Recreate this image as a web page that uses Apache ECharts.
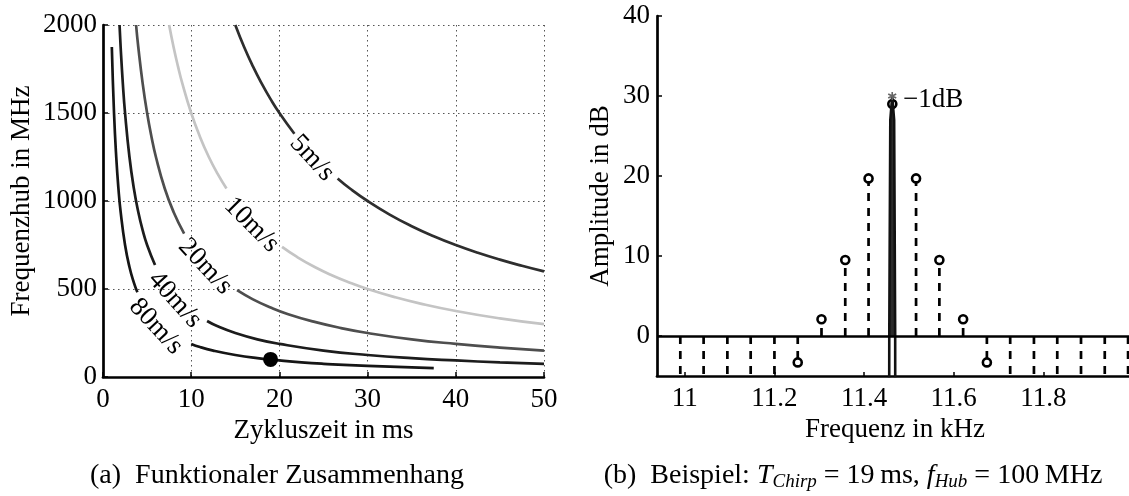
<!DOCTYPE html>
<html>
<head>
<meta charset="utf-8">
<script src="https://cdn.jsdelivr.net/npm/echarts@6/dist/echarts.min.js"></script>
<style>
  html, body { margin: 0; padding: 0; background: #fff; }
  #chart { width: 1129px; height: 496px; }
</style>
</head>
<body>
<div id="chart"></div>
<script>
// ---------- (a) Frequenzhub über Zykluszeit, Kurven konstanter Geschwindigkeit ----------
// null marks the break where the inline speed label sits
const curve5T  = [15, 16, 17, 18, 19, 20, 21.7, null, 26.6, 28, 30, 32.5, 35, 37.5, 40, 42.5, 45, 47.5, 50];
const curve5F  = [2000, 1875, 1765, 1667, 1579, 1500, 1382, null, 1128, 1071, 1000, 923, 857, 800, 750, 706, 667, 632, 600];
const curve10T = [7.5, 8, 8.5, 9, 10, 11, 12, 13, 14, null, 20.3, 22, 24, 26, 28, 30, 33, 36, 40, 45, 50];
const curve10F = [2000, 1875, 1765, 1667, 1500, 1364, 1250, 1154, 1071, null, 739, 682, 625, 577, 536, 500, 455, 417, 375, 333, 300];
const curve20T = [3.75, 4, 4.5, 5, 5.5, 6, 7, 8, 9.2, null, 15.2, 17, 19, 21, 24, 27, 30, 35, 40, 45, 50];
const curve20F = [2000, 1875, 1667, 1500, 1364, 1250, 1071, 938, 815, null, 493, 441, 395, 357, 313, 278, 250, 214, 188, 167, 150];
const curve40T = [1.875, 2, 2.25, 2.5, 3, 3.5, 4, 4.5, 5, 5.9, null, 11.8, 13, 15, 17.5, 20, 25, 30, 35, 40, 45, 50];
const curve40F = [2000, 1875, 1667, 1500, 1250, 1071, 938, 833, 750, 636, null, 318, 288, 250, 214, 188, 150, 125, 107, 94, 83, 75];
const curve80T = [1.0, 1.25, 1.5, 1.75, 2, 2.5, 3, 3.5, 3.9, null, 10, 11, 12.5, 15, 17.5, 20, 22.5, 25, 30, 37.5];
const curve80F = [1875, 1500, 1250, 1071, 938, 750, 625, 536, 481, null, 188, 170, 150, 125, 107, 94, 83, 75, 63, 50];

const speedLabels = ['5m/s', '10m/s', '20m/s', '40m/s', '80m/s'];
const speedLabelT = [23.7, 16.85, 11.6, 8.15, 6.0];
const speedLabelF = [1244, 865, 628, 439, 287];

// operating point: 19 ms, 100 MHz
const pointT = [19];
const pointF = [100];

const timeTicks = [0, 10, 20, 30, 40, 50];
const hubTicks = [0, 500, 1000, 1500, 2000];

// ---------- (b) Spektrum, T_Chirp = 19 ms, f_Hub = 100 MHz ----------
const binFreq = [10.990, 11.042, 11.095, 11.147, 11.200, 11.252, 11.305, 11.358, 11.410, 11.463,
                 11.516, 11.568, 11.621, 11.674, 11.726, 11.779, 11.831, 11.884, 11.937, 11.989];
const binDb   = [-14, -9.5, -12, -8, -11, -3.3, 2.1, 9.5, 19.7, 29,
                 19.7, 9.5, 2.1, -3.3, -11, -8, -12, -9.5, -14, -10];

const spikeFreq = [11.4561, 11.4562, 11.4585, 11.4628, 11.4671, 11.4694, 11.4695];
const spikeDb   = [-6, 0, 27, 30, 27, 0, -6];

const peakFreq = [11.4628];
const peakDb   = [30];
const peakLabel = '\u22121dB';

const freqTicks = [11, 11.2, 11.4, 11.6, 11.8];
const ampTicks  = [0, 10, 20, 30, 40];

// ---------- styling ----------
const FONT = '"Liberation Serif", "Times New Roman", serif';
const FS = 27;
const CAPTION_FS = 28;
const AXIS_W = 2.7;
const curveColors = ['#2e2e2e', '#c4c4c4', '#4e4e4e', '#1c1c1c', '#151515'];
const labelAngle = [-47, -45, -47, -48, -47];

function pairs(xs, ys) {
  return xs.map((x, i) => (x === null ? ['-', '-'] : [x, ys[i]]));
}

const curves = [
  pairs(curve5T, curve5F),
  pairs(curve10T, curve10F),
  pairs(curve20T, curve20F),
  pairs(curve40T, curve40F),
  pairs(curve80T, curve80F)
];

const textStyle = { fontFamily: FONT, fontSize: FS, color: '#000' };
const plainNumber = v => String(Math.round(v * 10) / 10);

const chart = echarts.init(document.getElementById('chart'), null, { renderer: 'canvas' });

const series = [];

curves.forEach((data, i) => {
  series.push({
    type: 'line',
    xAxisIndex: 0, yAxisIndex: 0,
    data,
    smooth: 0.5,
    showSymbol: false,
    connectNulls: false,
    lineStyle: { color: curveColors[i], width: 2.7 },
    z: 3
  });
});

series.push({
  type: 'scatter',
  xAxisIndex: 0, yAxisIndex: 0,
  symbolSize: 0,
  itemStyle: { opacity: 1 },
  data: speedLabelT.map((t, i) => ({
    value: [t, speedLabelF[i]],
    label: { rotate: labelAngle[i] }
  })),
  label: {
    show: true,
    position: 'inside',
    formatter: p => speedLabels[p.dataIndex],
    fontFamily: FONT, fontSize: FS, color: '#000', opacity: 1
  },
  z: 4
});

series.push({
  type: 'scatter',
  xAxisIndex: 0, yAxisIndex: 0,
  symbol: 'circle',
  symbolSize: 15,
  itemStyle: { color: '#000', opacity: 1 },
  data: pairs(pointT, pointF),
  z: 5
});

// stems with open circles, clipped at the lower axis limit
series.push({
  type: 'custom',
  coordinateSystem: 'cartesian2d',
  xAxisIndex: 1, yAxisIndex: 1,
  data: pairs(binFreq, binDb),
  encode: { x: 0, y: 1 },
  renderItem(params, api) {
    const f = api.value(0), a = api.value(1);
    const cs = params.coordSys;
    const bottom = cs.y + cs.height;
    const p0 = api.coord([f, 0]);
    const p1 = api.coord([f, a]);
    const inside = p1[1] <= bottom + 0.5;
    const yEnd = Math.min(p1[1], bottom);
    const children = [{
      type: 'line',
      shape: { x1: p0[0], y1: p0[1], x2: p0[0], y2: yEnd },
      style: { stroke: '#000', lineWidth: 2.7, lineDash: [8, 7] }
    }];
    if (inside) {
      children.push({
        type: 'circle',
        shape: { cx: p1[0], cy: p1[1], r: 4 },
        style: { fill: '#fff', stroke: '#000', lineWidth: 2.6 }
      });
    }
    return { type: 'group', children };
  },
  z: 2
});

// continuous spectrum around the peak plus the zero baseline
series.push({
  type: 'line',
  xAxisIndex: 1, yAxisIndex: 1,
  data: pairs(spikeFreq, spikeDb),
  showSymbol: false,
  lineStyle: { color: '#111', width: 2.6 },
  areaStyle: { color: '#2b2b2b', opacity: 1, origin: 0 },
  clip: true,
  z: 3,
  markLine: {
    silent: true,
    symbol: ['none', 'none'],
    label: { show: false },
    lineStyle: { color: '#000', width: AXIS_W, type: 'solid' },
    data: [{ yAxis: 0 }]
  }
});

series.push({
  type: 'scatter',
  xAxisIndex: 1, yAxisIndex: 1,
  symbol: 'path://M5,0 L5,10 M0.7,2.5 L9.3,7.5 M0.7,7.5 L9.3,2.5',
  symbolSize: 8,
  itemStyle: { color: 'rgba(0,0,0,0)', borderColor: '#666', borderWidth: 1.6, opacity: 1 },
  data: pairs(peakFreq, peakDb),
  label: {
    show: true,
    position: 'right',
    distance: 6,
    offset: [0, 4],
    formatter: peakLabel,
    fontFamily: FONT, fontSize: FS, color: '#000', opacity: 1
  },
  z: 6
});

const option = {
  animation: false,
  backgroundColor: '#fff',
  grid: [
    { left: 103, top: 25, width: 441, height: 352, containLabel: false, outerBoundsMode: 'none' },
    { left: 657, top: 16, width: 476, height: 360, containLabel: false, outerBoundsMode: 'none' }
  ],
  xAxis: [
    {
      type: 'value', gridIndex: 0,
      min: 0, max: 50, interval: 10,
      axisLine: { onZero: false, lineStyle: { color: '#000', width: AXIS_W } },
      axisTick: { inside: true, length: 5, lineStyle: { color: '#000', width: 1.5 } },
      axisLabel: Object.assign({ margin: 9, customValues: timeTicks, formatter: plainNumber }, textStyle),
      splitLine: { show: true, lineStyle: { color: '#555', width: 1, type: [1.5, 3.5] } },
      name: 'Zykluszeit in ms',
      nameLocation: 'middle',
      nameGap: 35,
      nameTextStyle: textStyle
    },
    {
      type: 'value', gridIndex: 1,
      min: 10.938, max: 12.0,
      axisLine: { onZero: false, lineStyle: { color: '#000', width: AXIS_W } },
      axisTick: { inside: true, length: 4, customValues: freqTicks, lineStyle: { color: '#000', width: 1.5 } },
      axisLabel: Object.assign({ margin: 9, customValues: freqTicks, formatter: plainNumber }, textStyle),
      splitLine: { show: false },
      name: 'Frequenz in kHz',
      nameLocation: 'middle',
      nameGap: 35,
      nameTextStyle: textStyle
    }
  ],
  yAxis: [
    {
      type: 'value', gridIndex: 0,
      min: 0, max: 2000, interval: 500,
      axisLine: { show: true, onZero: false, lineStyle: { color: '#000', width: AXIS_W } },
      axisTick: { show: true, inside: true, length: 5, lineStyle: { color: '#000', width: 1.5 } },
      axisLabel: Object.assign({ margin: 6, customValues: hubTicks, formatter: plainNumber }, textStyle),
      splitLine: { show: true, lineStyle: { color: '#555', width: 1, type: [1.5, 3.5] } },
      name: 'Frequenzhub in MHz',
      nameLocation: 'middle',
      nameGap: 68,
      nameTextStyle: textStyle
    },
    {
      type: 'value', gridIndex: 1,
      min: -5, max: 40,
      axisLine: { show: true, onZero: false, lineStyle: { color: '#000', width: AXIS_W } },
      axisTick: { show: true, inside: true, length: 5, customValues: ampTicks, lineStyle: { color: '#000', width: 1.5 } },
      axisLabel: Object.assign({ margin: 7, customValues: ampTicks, formatter: plainNumber }, textStyle),
      splitLine: { show: false },
      name: 'Amplitude in dB',
      nameLocation: 'middle',
      nameGap: 43,
      nameTextStyle: textStyle
    }
  ],
  graphic: [
    {
      type: 'text',
      x: 277, y: 476,
      style: {
        text: '(a)  Funktionaler Zusammenhang',
        fontFamily: FONT, fontSize: CAPTION_FS, fill: '#000',
        align: 'center', verticalAlign: 'middle'
      }
    },
    {
      type: 'text',
      x: 853, y: 476,
      style: {
        text: '(b)  Beispiel: {i|T}{s|Chirp} = 19\u2009ms, {i|f}{s|Hub} = 100\u2009MHz',
        fontFamily: FONT, fontSize: CAPTION_FS, fill: '#000',
        lineHeight: 30,
        align: 'center', verticalAlign: 'middle',
        rich: {
          i: { fontFamily: FONT, fontSize: CAPTION_FS, fontStyle: 'italic', lineHeight: 30 },
          s: { fontFamily: FONT, fontSize: 19, fontStyle: 'italic', lineHeight: 14, verticalAlign: 'bottom' }
        }
      }
    }
  ],
  series
};

chart.setOption(option);
</script>
</body>
</html>
